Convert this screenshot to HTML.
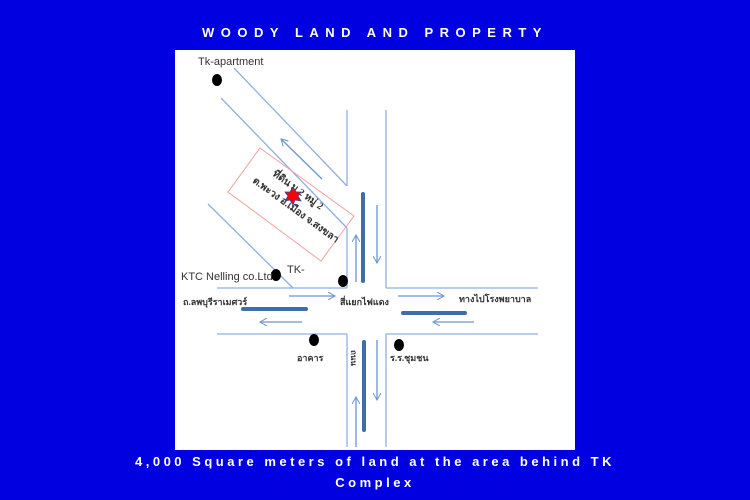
<!DOCTYPE html>
<html><head><meta charset="utf-8"><style>
html,body{margin:0;padding:0;width:750px;height:500px;background:#0000e0;overflow:hidden}
.t{position:absolute;color:#fff;font-family:"Liberation Sans",sans-serif;font-weight:bold;width:750px;text-align:center}
</style></head><body>
<div class="t" style="top:25px;font-size:13px;letter-spacing:6.5px">WOODY LAND AND PROPERTY</div>
<svg style="position:absolute;left:0;top:0" width="750" height="500">
<defs><marker id="a" markerWidth="8" markerHeight="8" refX="7" refY="4" orient="auto" markerUnits="userSpaceOnUse"><path d="M0,0 L7,4 L0,8" fill="none" stroke="#6a95d0" stroke-width="1"/></marker></defs>
<rect x="175" y="50" width="400" height="400" fill="#fff"/>
<g stroke="#8fb0de" stroke-width="1.3" fill="none">
<line x1="347" y1="110" x2="347" y2="186"/><line x1="386" y1="110" x2="386" y2="288"/>
<line x1="347" y1="228" x2="347" y2="288"/>
<line x1="217" y1="288" x2="347" y2="288"/><line x1="386" y1="288" x2="538" y2="288"/>
<line x1="217" y1="334" x2="347" y2="334"/><line x1="386" y1="334" x2="538" y2="334"/>
<line x1="347" y1="334" x2="347" y2="447"/><line x1="386" y1="334" x2="386" y2="447"/>
<line x1="234" y1="68" x2="347" y2="186"/><line x1="221" y1="98" x2="347" y2="228"/>
<line x1="208" y1="204" x2="293" y2="288"/>
</g>
<g stroke="#6a95d0" stroke-width="1.3" marker-end="url(#a)">
<line x1="322" y1="179" x2="281" y2="139"/>
<line x1="377" y1="205" x2="377" y2="263"/><line x1="356" y1="282" x2="356" y2="235"/>
<line x1="289" y1="296" x2="335" y2="296"/><line x1="398" y1="296" x2="444" y2="296"/>
<line x1="302" y1="322" x2="260" y2="322"/><line x1="474" y1="322" x2="433" y2="322"/>
<line x1="377" y1="340" x2="377" y2="400"/><line x1="356" y1="447" x2="356" y2="397"/>
</g>
<g stroke="#3d6ea8" stroke-width="4" stroke-linecap="round">
<line x1="363" y1="194" x2="363" y2="281"/><line x1="364" y1="342" x2="364" y2="430"/>
<line x1="243" y1="309" x2="306" y2="309"/><line x1="403" y1="313" x2="465" y2="313"/>
</g>
<polygon points="260,148 354,216 321,261 228,192" fill="none" stroke="#f2a0a0" stroke-width="1"/>
<g fill="#000"><ellipse cx="217" cy="80" rx="5" ry="6"/><ellipse cx="276" cy="275" rx="5" ry="6"/><ellipse cx="343" cy="281" rx="5" ry="6"/><ellipse cx="314" cy="340" rx="5" ry="6"/><ellipse cx="399" cy="345" rx="5" ry="6"/></g>
<g font-family="Liberation Serif,serif" font-size="10" font-weight="bold" fill="#333">
<text transform="translate(272,175) rotate(36)">ที่ดิน ม.2 หมู่ 2</text>
<text transform="translate(252,182) rotate(36)">ต.พะวง อ.เมือง จ.สงขลา</text>
<text x="183" y="305" font-size="9">ถ.ลพบุรีราเมศวร์</text>
<text x="340" y="305" font-size="9">สี่แยกไฟแดง</text>
<text x="459" y="302" font-size="9">ทางไปโรงพยาบาล</text>
<text x="297" y="361" font-size="9">อาคาร</text>
<text x="390" y="361" font-size="9">ร.ร.ชุมชน</text>
<text transform="translate(351,350) rotate(90)" font-size="8">ถนน</text>
</g>
<g font-family="Liberation Sans,sans-serif" font-size="11" fill="#333">
<text x="198" y="65">Tk-apartment</text>
<text x="181" y="280">KTC Nelling co.Ltd</text>
<text x="287" y="273">TK-</text>
</g>
<polygon points="293,187 296,192 301,192 298,196 301,201 295,200 293,205 290,200 285,201 288,196 285,192 290,192" fill="red" stroke="#2a4da0" stroke-width="0.8"/>
</svg>
<div class="t" style="top:451px;font-size:13px;letter-spacing:3.5px;line-height:21px">4,000 Square meters of land at the area behind TK<br>Complex</div>
</body></html>
